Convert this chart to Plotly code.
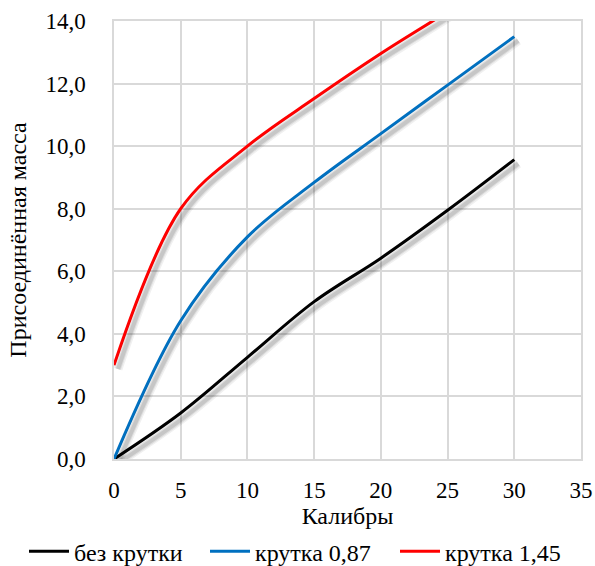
import plotly.graph_objects as go

calibers = [0, 5, 10, 15, 20, 25, 30]
no_twist = [0.0, 1.47, 3.25, 5.03, 6.42, 7.95, 9.57]
twist_087 = [0.0, 4.42, 7.1, 8.84, 10.4, 11.95, 13.5]
twist_145 = [3.0, 8.0, 10.0, 11.52, 12.96, 14.3, 15.7]

names = ["без крутки", "крутка 0,87", "крутка 1,45"]
colors = ["#000000", "#0070C0", "#FF0000"]
series = [no_twist, twist_087, twist_145]
legend_ids = ["legend", "legend2", "legend3"]

y_ticks = [0, 2, 4, 6, 8, 10, 12, 14]
y_tick_text = ["0,0", "2,0", "4,0", "6,0", "8,0", "10,0", "12,0", "14,0"]
x_ticks = [0, 5, 10, 15, 20, 25, 30, 35]

FONT = "Liberation Serif"
tick_fnt = dict(family=FONT, size=23, color="#000000")
fnt = dict(family=FONT, size=24, color="#000000")
leg_fnt = dict(family=FONT, size=24, color="#000000")

fig = go.Figure()

# soft drop shadows on a slightly shifted overlay axis pair
for width, alpha in [(9, 0.06), (6, 0.08), (4, 0.10)]:
    for ys in series:
        fig.add_trace(go.Scatter(x=calibers, y=ys, mode="lines",
                                 line=dict(color=f"rgba(0,0,0,{alpha})", width=width, shape="spline", smoothing=1.0),
                                 xaxis="x2", yaxis="y2", showlegend=False, hoverinfo="skip"))

for name, color, ys, lg in zip(names, colors, series, legend_ids):
    fig.add_trace(go.Scatter(x=calibers, y=ys, mode="lines", name=name, legend=lg,
                             line=dict(color=color, width=3, shape="spline", smoothing=1.0)))

dx = 4 / (467 / 35)
dy = 4 / (438 / 14)

def leg(xpos):
    return dict(orientation="h", x=xpos, xanchor="left", xref="container",
                y=0.065, yanchor="top", yref="container",
                font=leg_fnt, itemwidth=40, bgcolor="rgba(0,0,0,0)")

fig.update_layout(
    width=595, height=566,
    margin=dict(l=114, r=14, t=21, b=107, autoexpand=False),
    paper_bgcolor="white", plot_bgcolor="white",
    font=fnt,
    xaxis=dict(range=[0, 35], tickvals=x_ticks, showgrid=True, gridcolor="#d9d9d9", gridwidth=1.5,
               showline=True, linecolor="#d9d9d9", linewidth=1.5, mirror=True, zeroline=False,
               ticks="", ticklabelstandoff=10, automargin=False, tickfont=tick_fnt,
               title=dict(text="Калибры", standoff=13, font=fnt)),
    yaxis=dict(range=[0, 14], tickvals=y_ticks, ticktext=y_tick_text, showgrid=True, gridcolor="#d9d9d9",
               gridwidth=1.5, showline=True, linecolor="#d9d9d9", linewidth=1.5, mirror=True, zeroline=False,
               ticks="", ticklabelstandoff=22, automargin=False, tickfont=tick_fnt,
               title=dict(text="Присоединённая масса", standoff=12, font=fnt)),
    xaxis2=dict(range=[-dx, 35 - dx], overlaying="x", visible=False),
    yaxis2=dict(range=[dy, 14 + dy], overlaying="y", visible=False),
    legend=leg(24 / 595),
    legend2=leg(205 / 595),
    legend3=leg(395 / 595),
)

fig.write_html("out.html")
